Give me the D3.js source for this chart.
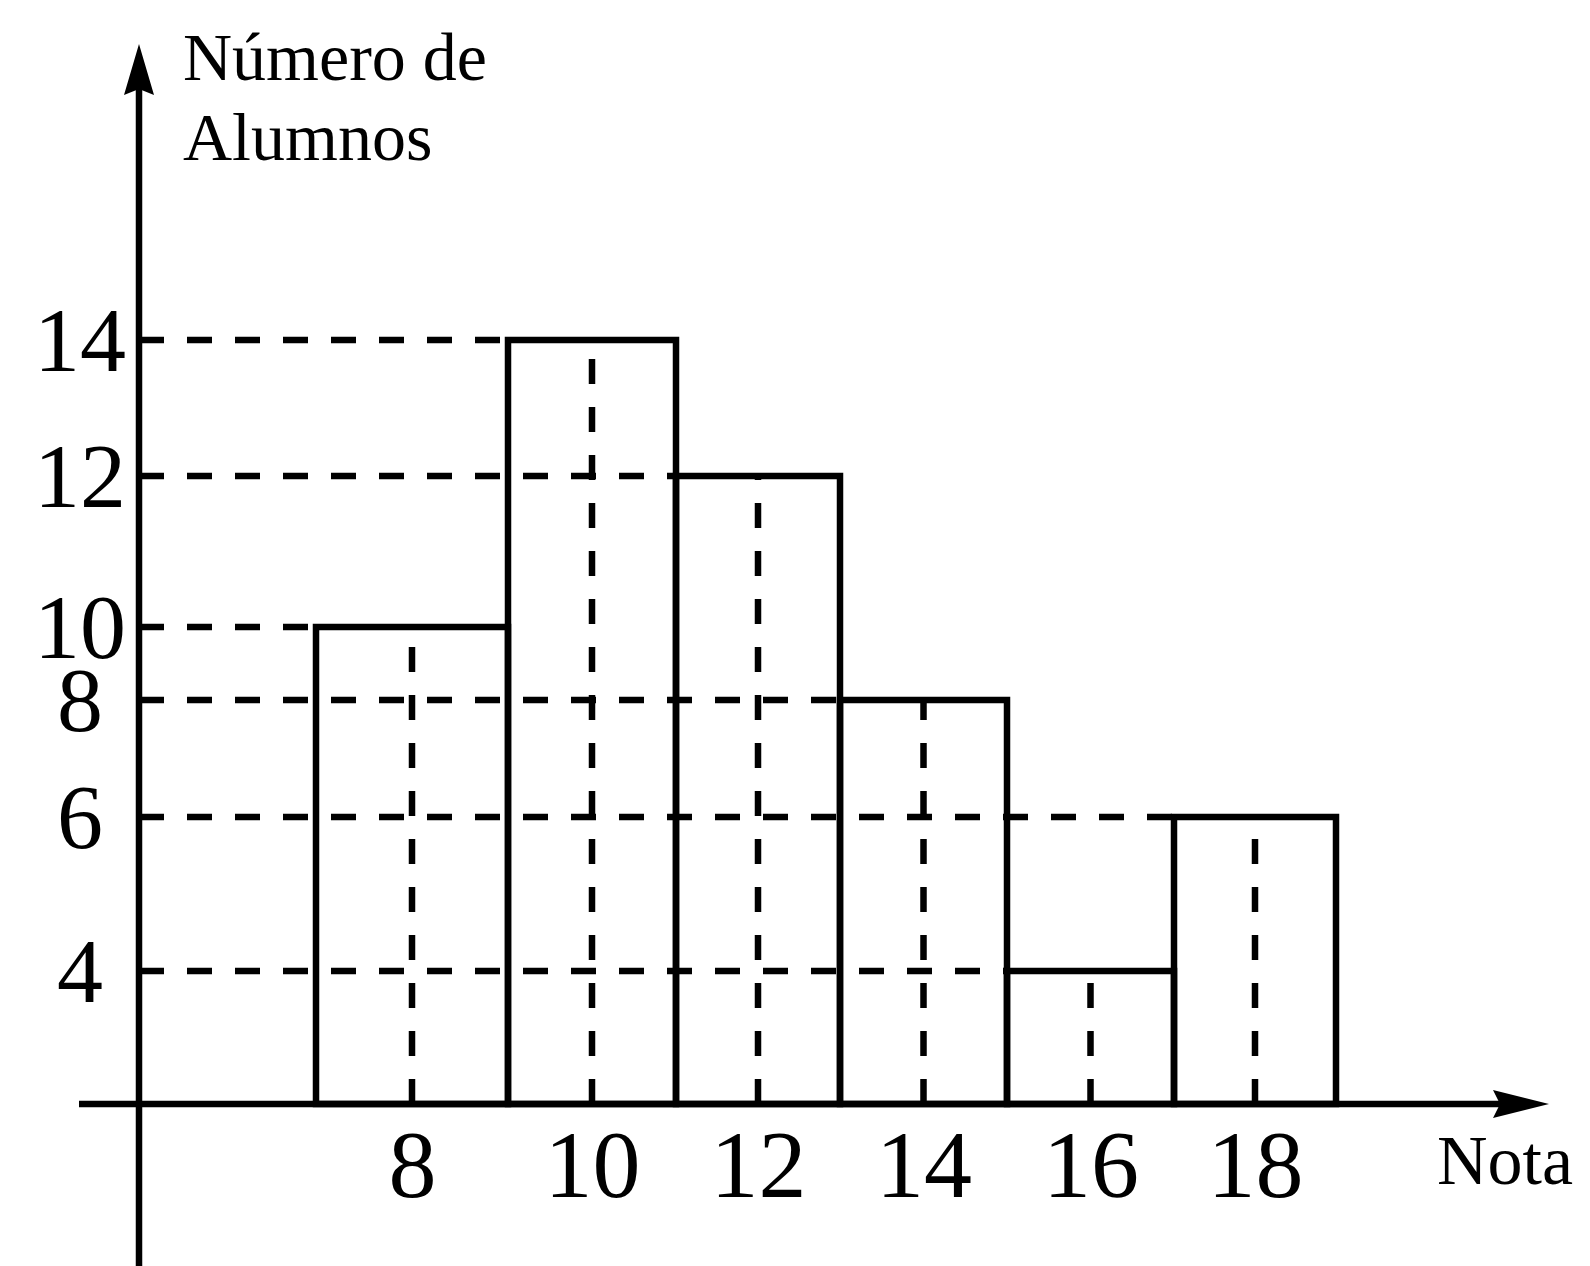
<!DOCTYPE html>
<html>
<head>
<meta charset="utf-8">
<script src="https://cdn.jsdelivr.net/npm/d3@7"></script>
<style>
  html, body { margin: 0; padding: 0; background: #fff; }
  svg { display: block; }
  text { font-family: "Liberation Serif", "Times New Roman", serif; fill: #000; }
</style>
</head>
<body>
<svg id="chart" width="1590" height="1266"></svg>
<script>
// Histogram: number of students per grade (class width 2)
const notas = [8, 10, 12, 14, 16, 18];
const alumnos = [10, 14, 12, 8, 4, 6];
const classEdges = [7, 9, 11, 13, 15, 17, 19];
const yTickValues = [4, 6, 8, 10, 12, 14];
const yTitle = ["Número de", "Alumnos"];
const xTitle = "Nota";

const svg = d3.select("#chart");
const W = 1590, H = 1266;

// The drawing is hand-spaced, so both scales are piecewise linear.
const x = d3.scaleLinear()
  .domain(classEdges)
  .range([316, 508, 676, 840, 1007, 1174, 1336]);
const y = d3.scaleLinear()
  .domain([0, 4, 6, 8, 10, 12, 14])
  .range([1104, 971, 817, 700, 627, 476, 340]);

const axisX = 139;          // position of the vertical axis
const axisY = y(0);         // position of the horizontal axis
const sw = 6.5;
const dash = "25,23";

const data = notas.map((n, i) => ({ nota: n, count: alumnos[i] }));

// horizontal dashed guides: from the vertical axis to the left edge of the bar
svg.append("g").selectAll("line")
  .data(data).join("line")
  .attr("x1", axisX).attr("x2", d => x(d.nota - 1))
  .attr("y1", d => y(d.count)).attr("y2", d => y(d.count))
  .attr("stroke", "#000").attr("stroke-width", sw)
  .attr("stroke-dasharray", dash);

// vertical dashed guides at class marks, drawn upward from the axis
svg.append("g").selectAll("line")
  .data(data).join("line")
  .attr("x1", d => x(d.nota)).attr("x2", d => x(d.nota))
  .attr("y1", axisY).attr("y2", d => y(d.count))
  .attr("stroke", "#000").attr("stroke-width", sw)
  .attr("stroke-dasharray", dash);

// bars
svg.append("g").selectAll("rect")
  .data(data).join("rect")
  .attr("x", d => x(d.nota - 1))
  .attr("width", d => x(d.nota + 1) - x(d.nota - 1))
  .attr("y", d => y(d.count))
  .attr("height", d => axisY - y(d.count))
  .attr("fill", "none")
  .attr("stroke", "#000").attr("stroke-width", sw)
  .attr("stroke-linejoin", "miter");

// axes lines with arrowheads
svg.append("line")
  .attr("x1", 79).attr("x2", 1500)
  .attr("y1", axisY).attr("y2", axisY)
  .attr("stroke", "#000").attr("stroke-width", sw);
svg.append("line")
  .attr("x1", axisX).attr("x2", axisX)
  .attr("y1", H).attr("y2", 88)
  .attr("stroke", "#000").attr("stroke-width", sw);

svg.append("path")
  .attr("d", `M${axisX},44 L${axisX - 15},95 L${axisX},89 L${axisX + 15},95 Z`)
  .attr("fill", "#000");
svg.append("path")
  .attr("d", `M1549,${axisY} L1493,${axisY - 14} L1500,${axisY} L1493,${axisY + 14} Z`)
  .attr("fill", "#000");

// x tick labels
const gx = svg.append("g")
  .attr("transform", `translate(0,${axisY})`)
  .call(d3.axisBottom(x).tickValues(notas).tickSize(0).tickFormat(d3.format("d")));
gx.select(".domain").remove();
gx.selectAll("text")
  .attr("y", 93).attr("dy", 0)
  .style("font-family", '"Liberation Serif", serif')
  .style("font-size", "96px")
  .attr("fill", "#000");

// y tick labels
const gy = svg.append("g")
  .attr("transform", "translate(80,0)")
  .call(d3.axisLeft(y).tickValues(yTickValues).tickSize(0).tickFormat(d3.format("d")));
gy.select(".domain").remove();
gy.selectAll("text")
  .attr("x", 0).attr("dy", "0.33em")
  .attr("text-anchor", "middle")
  .style("font-family", '"Liberation Serif", serif')
  .style("font-size", "92px")
  .attr("fill", "#000");

// axis titles
svg.append("g").selectAll("text")
  .data(yTitle).join("text")
  .attr("x", 183)
  .attr("y", (d, i) => 80 + i * 80)
  .style("font-size", "68px")
  .text(d => d);

svg.append("text")
  .attr("x", 1437).attr("y", 1184)
  .style("font-size", "70px")
  .text(xTitle);
</script>
</body>
</html>
